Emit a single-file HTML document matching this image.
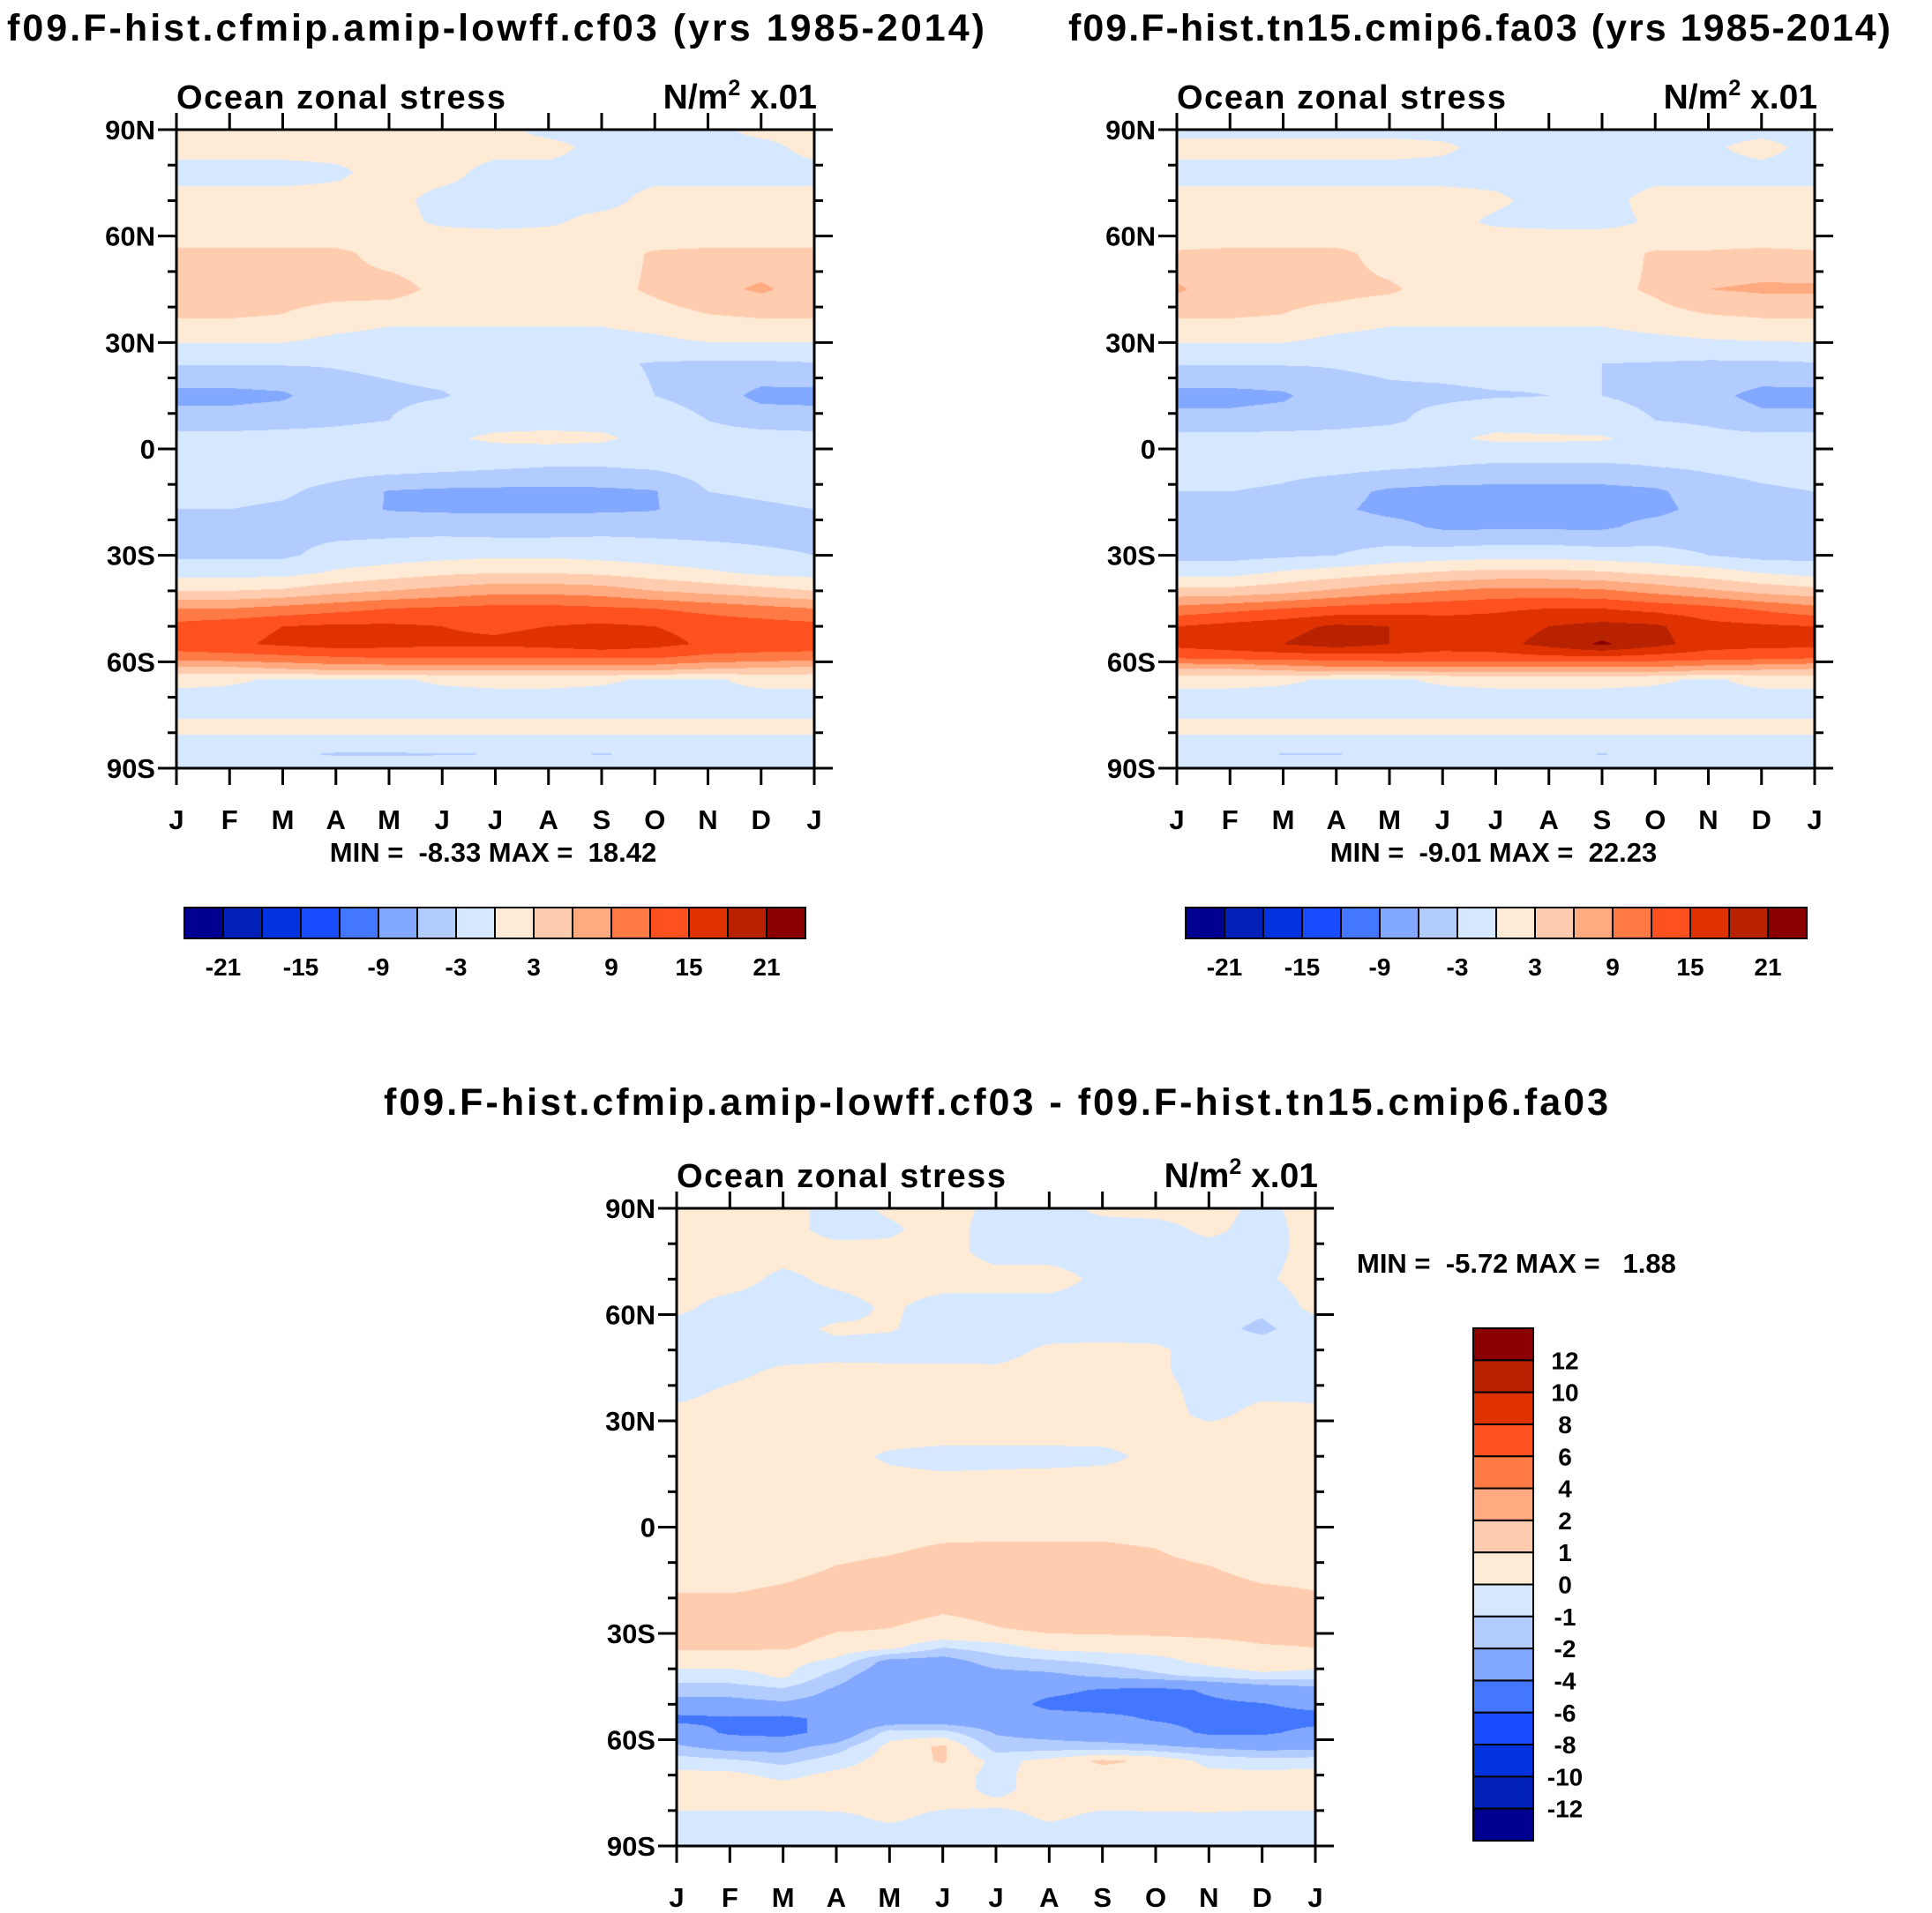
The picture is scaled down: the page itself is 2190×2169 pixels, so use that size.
<!DOCTYPE html>
<html><head><meta charset="utf-8"><style>
html,body{margin:0;padding:0;background:#fff;}
body{width:2190px;height:2169px;position:relative;overflow:hidden;font-family:"Liberation Sans",Arial,sans-serif;}
canvas{position:absolute;}
svg{position:absolute;left:0;top:0;}
text{font-family:"Liberation Sans",Arial,sans-serif;font-weight:bold;fill:#000;white-space:pre;}
</style></head><body>
<canvas id="c1" width="723" height="724" style="left:200px;top:147px"></canvas>
<canvas id="c2" width="723" height="724" style="left:1334px;top:147px"></canvas>
<canvas id="c3" width="724" height="723" style="left:767px;top:1370px"></canvas>
<svg id="ov" width="2190" height="2169">
<text x="562" y="46" font-size="43" text-anchor="middle" textLength="1108">f09.F-hist.cfmip.amip-lowff.cf03 (yrs 1985-2014)</text>
<text x="1677" y="46" font-size="43" text-anchor="middle" textLength="932">f09.F-hist.tn15.cmip6.fa03 (yrs 1985-2014)</text>
<text x="1129" y="1264" font-size="43" text-anchor="middle" textLength="1388">f09.F-hist.cfmip.amip-lowff.cf03 - f09.F-hist.tn15.cmip6.fa03</text>
</svg>
<script>
const MONTHS=["J","F","M","A","M","J","J","A","S","O","N","D","J"];
const YTICKS=["90N","60N","30N","0","30S","60S","90S"];
const COLORS=["#000090","#0020b8","#0033de","#1a4cff","#4477ff","#82a8ff","#b3ccff","#d6e8ff","#ffead6","#ffccb0","#ffaa80","#ff7a45","#ff5020","#e03200","#b82200","#8a0000"];
const LEVELS1=[-21,-18,-15,-12,-9,-6,-3,0,3,6,9,12,15,18,21];
const LEVELS3=[-12,-10,-8,-6,-4,-2,-1,0,1,2,4,6,8,10,12];
const CB1_LABELS=["-21","-15","-9","-3","3","9","15","21"];
const CB3_LABELS=["12","10","8","6","4","2","1","0","-1","-2","-4","-6","-8","-10","-12"];
const LATS1=[90,85,78,70,64,60,55,45,38,31,24,15,8,3,-5,-12,-17,-22,-30,-35,-40,-45,-50,-55,-59,-62,-65,-70,-74,-78,-83,-86,-90];
const VALS1=[
[1,1,1,1,1,1,1,-1,-1,-1,-1,1,1],
[1,1,1,1,1,1,1,1,-1,-1,-1,-1,1],
[-1,-1,-1,-0.5,1,1,-1,-1,-1,-1,-1,-1,-1],
[1,1,1,1,1,-1,-1,-1,-1,1,1,1,1],
[1,1,1,1,1,-0.5,-1,-0.5,1,1,0.5,1,1],
[1,1,1,1,1,1,1,1,1,1,1,1,1],
[4,4,4,4,1.5,1,1,1,1,3.5,4,4,4],
[4,4,4,4,4.5,2,1,1,2,3.5,5,6.5,4.5],
[3.5,3.5,3,2,1,1,1,1,1,2,3,3.5,3.5],
[0.5,0.5,0.5,-0.5,-1,-1,-1,-1,-1,-0.5,0.5,0.5,0.5],
[-2.8,-2.8,-2.8,-2.8,-2.5,-2,-2,-2,-2.5,-3.2,-3.5,-3.5,-3.2],
[-7,-7,-6.5,-4,-3.5,-3.2,-2,-2,-2,-3,-4,-7,-7],
[-4.5,-4.5,-4,-3.5,-3,-1.5,-1,-1,-1,-1.5,-3,-4,-4.5],
[-2,-2,-2,-2,-1.5,-0.5,0.5,0.8,0.5,-1,-2,-2,-2],
[-1.5,-1.5,-1.5,-1.5,-1.5,-2,-2.5,-3,-3,-2.5,-1.5,-1.5,-1.5],
[-2,-2,-2.5,-4,-6.2,-6.6,-6.7,-6.7,-6.6,-6.2,-3,-2.5,-2],
[-3,-3,-3.5,-4.5,-6.2,-6.5,-6.5,-6.5,-6.5,-6.2,-4,-3.5,-3],
[-4,-4,-3.8,-4,-4,-4,-4.5,-4.5,-4,-4,-4,-4,-4],
[-3.5,-3.5,-3.5,-2,-1.5,-1,-0.5,-0.5,-1,-1.5,-2,-2.5,-3],
[-1,-1,-1,0.5,1.5,2.5,3,3,2.5,1.5,0.5,-0.5,-1],
[3,3,3.5,5,6,7,8,8,7.5,6,5,4,3],
[9,9,10,11,12,12.5,13,13,12.5,12,11,10,9],
[13,14,15,15.5,15.5,15,14.5,15,15.5,15,14,13.5,13],
[14,14.5,15.5,16.5,16,15.5,15.5,16,17,16,14.5,14,14],
[10,10.5,11,11.5,12,12,12,12,12,12,11,10.5,10],
[5,5,6,7,7,7,7,7,7,7,6,5.5,5],
[1,0.5,-0.5,-0.5,-0.5,0.5,1,1,0.5,-0.5,-0.5,1,1],
[-1,-1,-1,-1,-1,-1,-1,-1,-1,-1,-1,-1,-1],
[-1,-1,-1,-1,-1,-1,-1,-1,-1,-1,-1,-1,-1],
[1,1,1,1,1,1,1,1,1,1,1,1,1],
[-1,-1,-1,-1,-1,-1,-1,-1,-1,-1,-1,-1,-1],
[-2,-2,-2.5,-3.3,-3.3,-3.2,-3,-2.5,-3.2,-2.5,-2,-2,-2],
[-1,-1,-1,-1,-1,-1,-1,-1,-1,-1,-1,-1,-1]];
const VALS2=[
[-1,-1,-1,-1,-1,-1,-1,-1,-1,-1,-1,-1,-1],
[1,1,1,1,1,0.5,-1,-1,-1,-1,-0.5,1,-1],
[-1,-1,-1,-1,-1,-1,-1,-1,-1,-1,-1,-1,-1],
[1,1,1,1,1,1,0.5,-1,-1,1,1,1,1],
[1,1,1,1,1,1,-0.5,-1,-1,0.5,1,1,1],
[1,1,1,1,1,1,1,1,1,1,1,1,1],
[3.5,4,4,4,1.5,1,1,1,1,3.5,3.5,4,3.5],
[6.5,4,4,4,3.5,1.5,1,1,2,3.5,6,6.5,6.5],
[3.5,3.5,3,2,1,1,1,1,1,2,3,3.5,3.5],
[0.5,0.5,0.5,-0.5,-1,-1,-1,-1,-1,-0.5,0,0.3,0.5],
[-2.8,-2.8,-2.8,-2.8,-2.5,-2.2,-2,-2.5,-3,-3.2,-3.5,-3.5,-3.2],
[-7,-7,-6.5,-4,-3.5,-3.5,-3.2,-3,-3,-3.5,-5,-7,-7],
[-5,-5,-4.5,-4,-3.5,-2,-1,-1.5,-2,-3,-3.5,-5,-5],
[-2,-2,-2,-2,-1.5,-0.5,0.5,0.5,0.3,-1,-2,-2,-2],
[-1.5,-1.5,-2,-2,-2.5,-3,-3.5,-3.5,-3.5,-3,-2.5,-2,-1.5],
[-3,-3,-3.5,-5,-6.5,-7,-7,-7,-7,-6.5,-4.5,-3.5,-3],
[-3.5,-3.5,-4,-5.5,-6.8,-7,-7,-7,-7,-6.8,-5,-4,-3.5],
[-4,-4.5,-4.5,-4.5,-5,-6.5,-6.5,-6.5,-6.5,-5,-4.5,-4.5,-4],
[-4,-4,-3.5,-3,-2,-1.5,-1,-1,-1.5,-2,-3,-4,-4],
[-1,-1,0.5,1.5,2.5,3.5,4,4,3.5,2.5,1.5,0,-1],
[4,4,5,6.5,8,9,10,10,9.5,8,6.5,5,4],
[10,11,12,13,13.5,14,14.5,15,15,14,13,11.5,10],
[15,16,17,18.5,18,16.5,16.5,18,19,18.5,16,15.5,15],
[16,17,18,19.5,18,16.5,17,19,21.5,19,16.5,16,16],
[12,12.5,13,13,13.5,13.5,13.5,14,14,13.5,13,12.5,12],
[6,6,7,8,8,8,8,8,8,8,7,6.5,6],
[1,1,0.5,-0.5,-0.5,0.5,1,1,1,0.5,-0.5,1,1],
[-1,-1,-1,-1,-1,-1,-1,-1,-1,-1,-1,-1,-1],
[-1,-1,-1,-1,-1,-1,-1,-1,-1,-1,-1,-1,-1],
[1,1,1,1,1,1,1,1,1,1,1,1,1],
[-1,-1,-1,-1,-1,-1,-1,-1,-1,-1,-1,-1,-1],
[-1.5,-1.5,-3.2,-3.2,-2,-1.5,-1.5,-2,-3.2,-2,-1.5,-1.5,-1.5],
[-1,-1,-1,-1,-1,-1,-1,-1,-1,-1,-1,-1,-1]];
const LATS3=[90,84,78,70,62,56,50,44,38,32,26,20,14,6,0,-6,-12,-18,-24,-30,-34,-38,-42,-46,-50,-54,-58,-62,-66,-70,-74,-78,-82,-86,-90];
const VALS3=[
[.5,.5,.5,-.5,.2,.5,-.3,-.5,.3,.5,.5,-.3,.5],
[.5,.5,.5,-.5,-.2,.5,-.5,-.5,-.5,-.5,.3,-.5,.5],
[.5,.5,.5,.5,.3,.5,-.5,-.5,-.5,-.5,-.5,-.5,.5],
[.5,.5,-.3,.3,.5,.5,.5,.5,-.3,-.5,-.5,-.2,.5],
[.3,-.5,-.5,-.5,.2,-.5,-.5,-.5,-.5,-.5,-.6,-.8,.3],
[-.5,-.5,-.4,.2,.1,-.5,-.5,-.5,-.5,-.5,-.7,-1.2,-.5],
[-.5,-.5,-.5,-.4,-.5,-.5,-.4,.2,.3,.2,-.5,-.5,-.5],
[-.5,-.3,.2,.3,.3,.3,.2,.4,.4,.2,-.5,-.5,-.5],
[-.3,.2,.5,.5,.5,.5,.5,.5,.5,.4,-.4,-.2,-.3],
[.3,.5,.5,.5,.5,.5,.5,.5,.5,.5,-.3,.3,.3],
[.5,.5,.5,.5,.5,.5,.5,.5,.5,.5,.5,.5,.5],
[.5,.5,.5,.5,-.2,-.5,-.5,-.5,-.4,.4,.5,.5,.5],
[.5,.5,.5,.5,.3,.2,.3,.4,.5,.5,.5,.5,.5],
[.5,.5,.5,.5,.5,.5,.5,.5,.5,.5,.5,.5,.5],
[.5,.5,.5,.5,.5,.7,.8,.8,.8,.7,.6,.5,.5],
[.5,.5,.6,.8,.9,1.1,1.1,1.1,1.1,1.0,.8,.6,.6],
[.7,.7,.8,1.05,1.2,1.3,1.3,1.3,1.3,1.15,1.05,.8,.8],
[.95,.95,1.1,1.3,1.4,1.5,1.5,1.5,1.5,1.4,1.3,1.1,1.0],
[1.4,1.4,1.4,1.3,1.15,1.02,1.1,1.2,1.2,1.25,1.3,1.4,1.4],
[1.3,1.3,1.3,.98,.95,.8,.95,1.0,1.05,1.1,1.2,1.3,1.3],
[1.1,1.1,1.1,.7,.3,-1,-.5,.3,.4,.5,.6,.9,1.0],
[.5,.5,.4,-.3,-2.5,-2.6,-1.5,-1.2,-.8,-.4,.3,.8,.6],
[-.5,-.5,.2,-1.5,-3,-3,-2.5,-2.3,-1.8,-1.2,-.8,-.3,-.5],
[-1.5,-1.5,-1.2,-2.2,-3,-3,-3,-3.5,-4.2,-4.5,-3.8,-3,-2.5],
[-2.5,-2.5,-2.2,-2.5,-3,-3,-3,-4.5,-4.8,-4.6,-4.3,-4.1,-3.5],
[-4.5,-4.2,-4.4,-3.5,-3.2,-3,-3,-3.2,-3.5,-4.2,-4.5,-4.6,-4.6],
[-3,-4.3,-4.6,-3.3,-.5,-.6,-2.1,-2.5,-3,-3.2,-4.3,-4.3,-3.5],
[-1.8,-2.5,-2.5,-1.5,.3,1.2,-1.5,-1.5,-1.5,-1.8,-2.2,-2.5,-2.4],
[-.5,-.8,-1.3,-.5,.5,1.1,-.3,.3,1.2,.8,-.3,-.6,-.5],
[.3,.3,-.3,.3,.5,.5,-.3,.5,.5,.5,.3,.3,.4],
[.5,.5,.5,.5,.5,.5,-.3,.5,.5,.5,.5,.5,.5],
[.5,.5,.5,.5,.5,.3,.2,.3,.3,.5,.5,.5,.5],
[-.5,-.5,-.5,-.4,.3,-.4,-.5,.2,-.3,-.4,-.3,-.5,-.5],
[-.5,-.5,-.5,-.5,-.5,-.5,-.5,-.5,-.5,-.5,-.5,-.5,-.5],
[-.5,-.5,-.5,-.5,-.5,-.5,-.5,-.5,-.5,-.5,-.5,-.5,-.5]];

function hex(c){return [parseInt(c.slice(1,3),16),parseInt(c.slice(3,5),16),parseInt(c.slice(5,7),16)];}
const RGB=COLORS.map(hex);
function levelIndex(v,levels){let k=0;for(const l of levels){if(v>=l)k++;}return k;}
function sample(lats,vals,lat,month){
  let i=0;while(i<lats.length-2&&lat<lats[i+1])i++;
  const t=(lats[i]-lat)/(lats[i]-lats[i+1]);
  let j=Math.min(11,Math.floor(month));const u=month-j;
  const a=vals[i][j]*(1-u)+vals[i][j+1]*u;
  const b=vals[i+1][j]*(1-u)+vals[i+1][j+1]*u;
  return a*(1-t)+b*t;
}
function drawField(id,lats,vals,levels){
  const cv=document.getElementById(id),ctx=cv.getContext('2d');
  const W=cv.width,H=cv.height,img=ctx.createImageData(W,H);
  const xMonth=px=>(px+0.5)/W*12, yLat=py=>90-(py+0.5)/H*180;
  for(let py=0;py<H;py++){const lat=yLat(py);
    for(let px=0;px<W;px++){
      const k=levelIndex(sample(lats,vals,lat,xMonth(px)),levels);
      const c=RGB[k],o=(py*W+px)*4;img.data[o]=c[0];img.data[o+1]=c[1];img.data[o+2]=c[2];img.data[o+3]=255;}}
  ctx.putImageData(img,0,0);
}
drawField('c1',LATS1,VALS1,LEVELS1);
drawField('c2',LATS1,VALS2,LEVELS1);
drawField('c3',LATS3,VALS3,LEVELS3);

const NS="http://www.w3.org/2000/svg",svg=document.getElementById('ov');
function mk(tag,attrs){const e=document.createElementNS(NS,tag);for(const k in attrs)e.setAttribute(k,attrs[k]);svg.appendChild(e);return e;}
function txt(x,y,s,size,anchor,extra){const e=mk('text',Object.assign({x:x,y:y,'font-size':size,'text-anchor':anchor},extra||{}));e.textContent=s;return e;}

function axes(P,pfx,minmax){
  const L=P.x,R=P.x+P.w,T=P.y,B=P.y+P.h;
  const xs=m=>L+m/12*P.w, ys=lat=>T+(90-lat)/180*P.h;
  const f=mk('rect',{x:L,y:T,width:P.w,height:P.h,fill:'none',stroke:'#000','stroke-width':3});
  
  
  MONTHS.forEach((m,i)=>{
    const x=xs(i);
    mk('line',{x1:x,y1:T,x2:x,y2:T-19,stroke:'#000','stroke-width':3});
    mk('line',{x1:x,y1:B,x2:x,y2:B+19,stroke:'#000','stroke-width':3});
    const t=txt(x,B+69,m,31,'middle');
    
    
  });
  for(let lat=90;lat>=-90;lat-=10){
    const y=ys(lat),major=lat%30===0,len=major?21:10;
    mk('line',{x1:L,y1:y,x2:L-len,y2:y,stroke:'#000','stroke-width':3});
    mk('line',{x1:R,y1:y,x2:R+len,y2:y,stroke:'#000','stroke-width':3});
  }
  YTICKS.forEach((s,i)=>{
    const t=txt(L-24,ys(90-30*i)+11,s,31,'end');
    
    
  });
  const a=txt(L,T-24,'Ocean zonal stress',38,'start',{textLength:373});
  
  
  const u=txt(R+3,T-24,'',39,'end');
  
  
  u.innerHTML='N/m<tspan font-size="25" dy="-15">2</tspan><tspan dy="15"> x.01</tspan>';
  if(minmax){const mm=txt(minmax.x,minmax.y,minmax.s,31,minmax.a);
    
    }
}
axes({x:200,y:147,w:723,h:724},'panel1',{x:559,y:977,s:'MIN =  -8.33 MAX =  18.42',a:'middle'});
axes({x:1334,y:147,w:723,h:724},'panel2',{x:1693,y:977,s:'MIN =  -9.01 MAX =  22.23',a:'middle'});
axes({x:767,y:1370,w:724,h:723},'diff',{x:1538,y:1443,s:'MIN =  -5.72 MAX =   1.88',a:'start'});

function hbar(x,y,w,h,pfx){
  const bw=w/16;
  COLORS.forEach((c,i)=>{const r=mk('rect',{x:x+i*bw,y:y,width:bw,height:h,fill:c,stroke:'#000','stroke-width':2});
    
    });
  CB1_LABELS.forEach((s,i)=>{const t=txt(x+(1+2*i)*bw,y+h+42,s,28,'middle');
    
    });
}
hbar(209,1029,704,35,'panel1');
hbar(1344,1029,704,35,'panel2');
(function(){const x=1670,y=1506,w=68,h=581,bh=h/16;
  COLORS.slice().reverse().forEach((c,i)=>{const r=mk('rect',{x:x,y:y+i*bh,width:w,height:bh,fill:c,stroke:'#000','stroke-width':2});
    
    });
  CB3_LABELS.forEach((s,i)=>{const t=txt(1774,y+(i+1)*bh+10,s,28,'middle');
    
    });
})();
</script>
</body></html>
